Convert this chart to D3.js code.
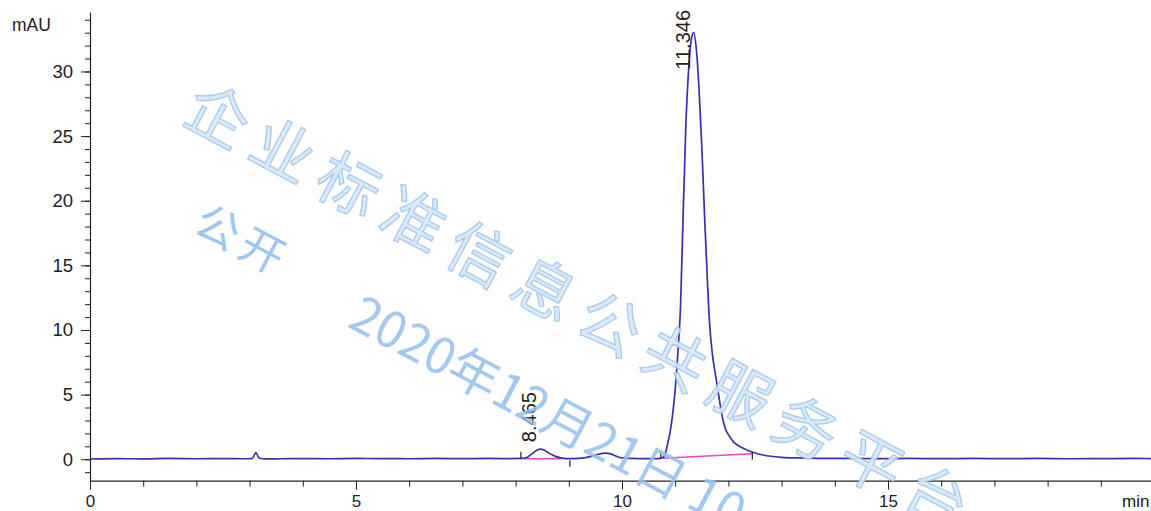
<!DOCTYPE html>
<html>
<head>
<meta charset="utf-8">
<script src="https://cdn.jsdelivr.net/npm/d3@7"></script>
<style>
  html, body { margin: 0; padding: 0; background: #fff; overflow: hidden; }
  svg { display: block; }
</style>
</head>
<body>
<svg id="chart" width="1151" height="511"></svg>
<script>
// Retention time (min) and detector signal (mAU) of the UV trace
const retentionTimes = [
  0.0, 0.5, 1.0, 1.5, 2.0, 2.5, 2.9, 3.04, 3.08, 3.12, 3.16, 3.20, 3.30, 3.6,
  4.0, 4.5, 5.0, 5.5, 6.0, 6.5, 7.0, 7.5, 7.9,
  8.10, 8.20, 8.30, 8.40, 8.465, 8.55, 8.65, 8.75, 8.85, 8.95,
  9.10, 9.25, 9.40, 9.55, 9.68, 9.80, 9.90, 10.00, 10.15, 10.30, 10.50, 10.65,
  10.72, 10.78, 10.82, 10.86, 10.90, 10.95, 11.00, 11.05, 11.10, 11.15, 11.20,
  11.25, 11.30, 11.346, 11.40, 11.45, 11.50, 11.55, 11.60, 11.65, 11.70, 11.75,
  11.80, 11.85, 11.90, 11.95, 12.00, 12.10, 12.20, 12.35, 12.50, 12.65, 12.80,
  13.00, 13.30, 13.70, 14.2, 14.8, 15.4, 16.0, 16.6, 17.2, 17.8, 18.4, 19.0, 19.6, 20.0
];
const signal = [
  0.02, 0.05, 0.03, 0.06, 0.04, 0.05, 0.04, 0.05, 0.25, 0.52, 0.20, 0.06, 0.03, 0.04,
  0.05, 0.04, 0.06, 0.05, 0.04, 0.06, 0.05, 0.06, 0.05,
  0.06, 0.12, 0.40, 0.70, 0.78, 0.68, 0.42, 0.22, 0.10, 0.05,
  0.05, 0.08, 0.20, 0.38, 0.48, 0.40, 0.22, 0.10, 0.06, 0.05, 0.05, 0.05,
  0.07, 0.18, 0.50, 1.25, 2.00, 3.4, 5.4, 8.2, 11.8, 19.0, 25.8,
  30.0, 32.4, 33.0, 31.6, 28.5, 24.2, 19.0, 14.3, 10.3, 8.1, 6.7,
  5.4, 4.1, 3.0, 2.3, 1.9, 1.33, 1.02, 0.72, 0.48, 0.33, 0.23,
  0.15, 0.10, 0.07, 0.06, 0.05, 0.06, 0.05, 0.06, 0.05, 0.06, 0.04, 0.05, 0.06, 0.05
];

// Integrated peaks: apex time and apex height
const peakTimes = [8.465, 11.346];
const peakHeights = [0.78, 33.0];
const peakLabels = ["8.465", "11.346"];

// Integration baselines (start/end time and level)
const baseStartT = [8.15, 10.75];
const baseStartV = [0.04, 0.08];
const baseEndT = [8.85, 12.45];
const baseEndV = [0.05, 0.42];

// Peak start/end event marks (time, from level, to level)
const eventT = [8.10, 9.02, 10.73, 12.45];
const eventFrom = [0.0, -0.08, 0.05, -0.02];
const eventTo = [0.58, -0.58, 0.58, 0.58];

// Axis ticks
const yMajorTicks = [0, 5, 10, 15, 20, 25, 30];
const xMajorTicks = [0, 5, 10, 15];
const yUnit = "mAU";
const xUnit = "min";

// Overlay text
const stampTitle = "企业标准信息公共服务平台";
const stampStatus = "公开";
const stampDate = "2020年12月21日 10";

const svg = d3.select("#chart");
const font = "'Liberation Sans', Arial, sans-serif";

const x = d3.scaleLinear().domain([0, 20]).range([90, 1154]);
const y = d3.scaleLinear().domain([-1.66, 34.6]).range([480.7, 12]);

// Y axis: minor ticks every 1 mAU, labelled majors every 5
svg.append("g")
  .attr("transform", `translate(${x(0)},0)`)
  .call(d3.axisLeft(y).tickValues(d3.range(-1, 35)).tickSize(5).tickFormat(""))
  .call(g => g.select(".domain").remove())
  .call(g => g.selectAll("line").attr("stroke", "#222"));
svg.append("g")
  .attr("transform", `translate(${x(0)},0)`)
  .call(d3.axisLeft(y).tickValues(yMajorTicks).tickSize(9).tickSizeOuter(0).tickPadding(8))
  .call(g => g.select(".domain").attr("stroke", "#222").attr("stroke-width", 1.2))
  .call(g => g.selectAll("line").attr("stroke", "#222"))
  .call(g => g.selectAll("text").attr("font-family", font).attr("font-size", 18.5).attr("fill", "#222"));

// X axis: minor ticks every 1 min, labelled majors every 5
svg.append("g")
  .attr("transform", `translate(0,${y(-1.66)})`)
  .call(d3.axisBottom(x).tickValues(d3.range(0, 21)).tickSize(6).tickFormat(""))
  .call(g => g.select(".domain").remove())
  .call(g => g.selectAll("line").attr("stroke", "#222"));
svg.append("g")
  .attr("transform", `translate(0,${y(-1.66)})`)
  .call(d3.axisBottom(x).tickValues(xMajorTicks).tickSize(9).tickSizeOuter(0).tickPadding(5))
  .call(g => g.select(".domain").attr("stroke", "#222").attr("stroke-width", 1.2))
  .call(g => g.selectAll("line").attr("stroke", "#222"))
  .call(g => g.selectAll("text").attr("font-family", font).attr("font-size", 17).attr("fill", "#222"));

svg.append("text")
  .attr("x", 12).attr("y", 31)
  .attr("font-family", font).attr("font-size", 17.5).attr("fill", "#222")
  .text(yUnit);
svg.append("text")
  .attr("x", 1122).attr("y", y(-1.66) + 5 + 9 + 17 * 0.71)
  .attr("font-family", font).attr("font-size", 17).attr("fill", "#222")
  .text(xUnit);

// Integration baselines
svg.append("g").selectAll("line")
  .data(d3.range(baseStartT.length))
  .join("line")
  .attr("x1", i => x(baseStartT[i])).attr("y1", i => y(baseStartV[i]))
  .attr("x2", i => x(baseEndT[i])).attr("y2", i => y(baseEndV[i]))
  .attr("stroke", "#e048d8").attr("stroke-width", 1.6);

// Chromatogram trace
const traceData = retentionTimes.map((t, i) => [t, signal[i]]);
svg.append("path")
  .datum(traceData)
  .attr("fill", "none")
  .attr("stroke", "#3a2fb2")
  .attr("stroke-width", 1.7)
  .attr("stroke-linejoin", "round")
  .attr("d", d3.line().x(d => x(d[0])).y(d => y(d[1])).curve(d3.curveMonotoneX));

// Peak start/end marks
svg.append("g").selectAll("line")
  .data(d3.range(eventT.length))
  .join("line")
  .attr("x1", i => x(eventT[i])).attr("x2", i => x(eventT[i]))
  .attr("y1", i => y(eventFrom[i])).attr("y2", i => y(eventTo[i]))
  .attr("stroke", "#222").attr("stroke-width", 1.2);

// Retention time labels, rotated, just left of each apex
const labels = svg.append("g").selectAll("text")
  .data(d3.range(peakTimes.length))
  .join("text")
  .attr("font-family", font).attr("font-size", 20).attr("fill", "#222")
  .text(i => peakLabels[i]);
labels.attr("transform", function(i) {
  const len = this.getComputedTextLength();
  const px = x(peakTimes[i]) - 4;
  const py = Math.max(y(peakHeights[i]) - 7, 10 + len);
  return `translate(${px},${py}) rotate(-90)`;
});

// Diagonal overlay stamp
const stamp = svg.append("g").attr("font-family", "'Noto Sans CJK SC', sans-serif");
const angle = 28;
stamp.append("text")
  .attr("transform", `translate(180,121) rotate(${angle})`)
  .attr("font-size", 62)
  .attr("letter-spacing", 12)
  .attr("fill", "#d6e8fb")
  .attr("stroke", "#9fc6f1")
  .attr("stroke-width", 1.3)
  .attr("opacity", 0.9)
  .text(stampTitle);
stamp.append("text")
  .attr("transform", `translate(191,231) rotate(${angle})`)
  .attr("font-size", 44)
  .attr("letter-spacing", 6)
  .attr("fill", "#93c0f2")
  .attr("opacity", 0.9)
  .text(stampStatus);
stamp.append("text")
  .attr("transform", `translate(346,326) rotate(${angle})`)
  .attr("font-size", 50)
  .attr("fill", "#93c0f2")
  .attr("opacity", 0.85)
  .text(stampDate);
</script>
</body>
</html>
